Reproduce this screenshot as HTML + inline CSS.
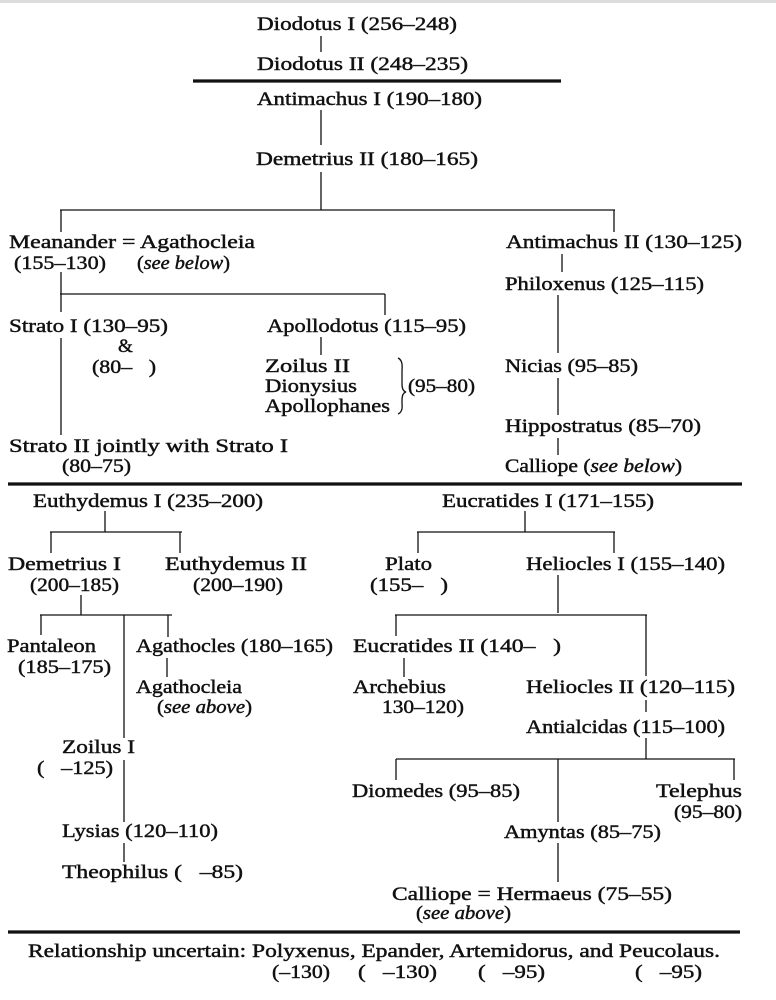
<!DOCTYPE html>
<html><head><meta charset="utf-8"><style>
html,body{margin:0;padding:0;background:#fff;}
svg{display:block;}
text{font-family:"Liberation Serif",serif;font-size:19px;fill:#111;stroke:#111;stroke-width:0.45;}
.i{font-style:italic;}
line{stroke:#111;stroke-width:1.3;}
.t{stroke-width:3.2;}
</style></head><body>
<svg width="776" height="1000" viewBox="0 0 776 1000" xmlns="http://www.w3.org/2000/svg">
<rect x="0" y="0" width="776" height="3" fill="#ddd"/>
<g>
<text x="257" y="30" textLength="200" lengthAdjust="spacingAndGlyphs">Diodotus I (256–248)</text>
<text x="257" y="70" textLength="211" lengthAdjust="spacingAndGlyphs">Diodotus II (248–235)</text>
<text x="257" y="105" textLength="225" lengthAdjust="spacingAndGlyphs">Antimachus I (190–180)</text>
<text x="256" y="165" textLength="222" lengthAdjust="spacingAndGlyphs">Demetrius II (180–165)</text>
<text x="9" y="248" textLength="246" lengthAdjust="spacingAndGlyphs">Meanander = Agathocleia</text>
<text x="14" y="269" textLength="92" lengthAdjust="spacingAndGlyphs">(155–130)</text>
<text x="137" y="269" textLength="93" lengthAdjust="spacingAndGlyphs">(<tspan class="i">see below</tspan>)</text>
<text x="9" y="332" textLength="159" lengthAdjust="spacingAndGlyphs">Strato I (130–95)</text>
<text x="118" y="352">&amp;</text>
<text x="92" y="373" textLength="64" lengthAdjust="spacingAndGlyphs">(80–&#160;&#160;&#160;)</text>
<text x="267" y="332" textLength="199" lengthAdjust="spacingAndGlyphs">Apollodotus (115–95)</text>
<text x="265" y="372" textLength="85" lengthAdjust="spacingAndGlyphs">Zoilus II</text>
<text x="265" y="392" textLength="92" lengthAdjust="spacingAndGlyphs">Dionysius</text>
<text x="265" y="412" textLength="125" lengthAdjust="spacingAndGlyphs">Apollophanes</text>
<text x="408" y="392" textLength="67" lengthAdjust="spacingAndGlyphs">(95–80)</text>
<text x="9" y="452" textLength="279" lengthAdjust="spacingAndGlyphs">Strato II jointly with Strato I</text>
<text x="62" y="472" textLength="69" lengthAdjust="spacingAndGlyphs">(80–75)</text>
<text x="506" y="248" textLength="236" lengthAdjust="spacingAndGlyphs">Antimachus II (130–125)</text>
<text x="505" y="290" textLength="199" lengthAdjust="spacingAndGlyphs">Philoxenus (125–115)</text>
<text x="505" y="372" textLength="133" lengthAdjust="spacingAndGlyphs">Nicias (95–85)</text>
<text x="505" y="432" textLength="196" lengthAdjust="spacingAndGlyphs">Hippostratus (85–70)</text>
<text x="505" y="472" textLength="177" lengthAdjust="spacingAndGlyphs">Calliope (<tspan class="i">see below</tspan>)</text>

<text x="33" y="507" textLength="230" lengthAdjust="spacingAndGlyphs">Euthydemus I (235–200)</text>
<text x="8" y="570" textLength="113" lengthAdjust="spacingAndGlyphs">Demetrius I</text>
<text x="30" y="591" textLength="89" lengthAdjust="spacingAndGlyphs">(200–185)</text>
<text x="165" y="570" textLength="142" lengthAdjust="spacingAndGlyphs">Euthydemus II</text>
<text x="193" y="591" textLength="90" lengthAdjust="spacingAndGlyphs">(200–190)</text>
<text x="7" y="652" textLength="89" lengthAdjust="spacingAndGlyphs">Pantaleon</text>
<text x="18" y="673" textLength="93" lengthAdjust="spacingAndGlyphs">(185–175)</text>
<text x="136" y="652" textLength="197" lengthAdjust="spacingAndGlyphs">Agathocles (180–165)</text>
<text x="136" y="693" textLength="106" lengthAdjust="spacingAndGlyphs">Agathocleia</text>
<text x="157" y="713" textLength="95" lengthAdjust="spacingAndGlyphs">(<tspan class="i">see above</tspan>)</text>
<text x="62" y="753" textLength="73" lengthAdjust="spacingAndGlyphs">Zoilus I</text>
<text x="37" y="774" textLength="76" lengthAdjust="spacingAndGlyphs">(&#160;&#160;&#160;–125)</text>
<text x="62" y="837" textLength="156" lengthAdjust="spacingAndGlyphs">Lysias (120–110)</text>
<text x="62" y="878" textLength="181" lengthAdjust="spacingAndGlyphs">Theophilus (&#160;&#160;&#160;–85)</text>
<text x="442" y="507" textLength="212" lengthAdjust="spacingAndGlyphs">Eucratides I (171–155)</text>
<text x="385" y="570" textLength="47" lengthAdjust="spacingAndGlyphs">Plato</text>
<text x="370" y="591" textLength="78" lengthAdjust="spacingAndGlyphs">(155–&#160;&#160;&#160;)</text>
<text x="526" y="570" textLength="199" lengthAdjust="spacingAndGlyphs">Heliocles I (155–140)</text>
<text x="353" y="652" textLength="208" lengthAdjust="spacingAndGlyphs">Eucratides II (140–&#160;&#160;&#160;)</text>
<text x="353" y="693" textLength="93" lengthAdjust="spacingAndGlyphs">Archebius</text>
<text x="382" y="713" textLength="82" lengthAdjust="spacingAndGlyphs">130–120)</text>
<text x="526" y="693" textLength="209" lengthAdjust="spacingAndGlyphs">Heliocles II (120–115)</text>
<text x="526" y="733" textLength="199" lengthAdjust="spacingAndGlyphs">Antialcidas (115–100)</text>
<text x="352" y="797" textLength="168" lengthAdjust="spacingAndGlyphs">Diomedes (95–85)</text>
<text x="656" y="797" textLength="86" lengthAdjust="spacingAndGlyphs">Telephus</text>
<text x="674" y="818" textLength="68" lengthAdjust="spacingAndGlyphs">(95–80)</text>
<text x="504" y="838" textLength="157" lengthAdjust="spacingAndGlyphs">Amyntas (85–75)</text>
<text x="392" y="900" textLength="280" lengthAdjust="spacingAndGlyphs">Calliope = Hermaeus (75–55)</text>
<text x="416" y="919" textLength="95" lengthAdjust="spacingAndGlyphs">(<tspan class="i">see above</tspan>)</text>
<text x="28" y="957" textLength="692" lengthAdjust="spacingAndGlyphs">Relationship uncertain: Polyxenus, Epander, Artemidorus, and Peucolaus.</text>
<text x="272" y="978" textLength="58" lengthAdjust="spacingAndGlyphs">(–130)</text>
<text x="358" y="978" textLength="79" lengthAdjust="spacingAndGlyphs">(&#160;&#160;&#160;–130)</text>
<text x="478" y="978" textLength="67" lengthAdjust="spacingAndGlyphs">(&#160;&#160;&#160;–95)</text>
<text x="635" y="978" textLength="67" lengthAdjust="spacingAndGlyphs">(&#160;&#160;&#160;–95)</text>
</g>

<line x1="321" y1="36" x2="321" y2="52"/>
<line class="t" x1="193" y1="81" x2="561" y2="81"/>
<line x1="321" y1="110" x2="321" y2="145"/>
<line x1="321" y1="172" x2="321" y2="210"/>
<line x1="60" y1="210" x2="615" y2="210"/>
<line x1="61" y1="210" x2="61" y2="232"/>
<line x1="614" y1="210" x2="614" y2="232"/>
<line x1="61" y1="272" x2="61" y2="312"/>
<line x1="60" y1="294" x2="385" y2="294"/>
<line x1="385" y1="294" x2="385" y2="315"/>
<line x1="61" y1="338" x2="61" y2="435"/>
<line x1="321" y1="337" x2="321" y2="355"/>
<path d="M398 358 Q403 360 402 370 L402 384 Q402 391 406 392 Q402 393 402 400 L402 404 Q403 412 398 414" fill="none" stroke="#111" stroke-width="1.3"/>
<line x1="562" y1="254" x2="562" y2="272"/>
<line x1="558" y1="295" x2="558" y2="353"/>
<line x1="558" y1="378" x2="558" y2="415"/>
<line x1="558" y1="438" x2="558" y2="455"/>
<line class="t" x1="8" y1="484" x2="742" y2="484"/>
<line x1="105" y1="511" x2="105" y2="532"/>
<line x1="50" y1="532" x2="182" y2="532"/>
<line x1="51" y1="532" x2="51" y2="553"/>
<line x1="180" y1="532" x2="180" y2="553"/>
<line x1="81" y1="595" x2="81" y2="615"/>
<line x1="40" y1="615" x2="172" y2="615"/>
<line x1="41" y1="615" x2="41" y2="635"/>
<line x1="124" y1="615" x2="124" y2="738"/>
<line x1="168" y1="615" x2="168" y2="637"/>
<line x1="167" y1="658" x2="167" y2="677"/>
<line x1="124" y1="760" x2="124" y2="822"/>
<line x1="124" y1="843" x2="124" y2="862"/>
<line x1="525" y1="511" x2="525" y2="532"/>
<line x1="417" y1="532" x2="615" y2="532"/>
<line x1="418" y1="532" x2="418" y2="553"/>
<line x1="614" y1="532" x2="614" y2="553"/>
<line x1="558" y1="575" x2="558" y2="613"/>
<line x1="395" y1="615" x2="647" y2="615"/>
<line x1="396" y1="615" x2="396" y2="636"/>
<line x1="646" y1="615" x2="646" y2="676"/>
<line x1="404" y1="658" x2="404" y2="677"/>
<line x1="646" y1="700" x2="646" y2="712"/>
<line x1="646" y1="738" x2="646" y2="759"/>
<line x1="396" y1="759" x2="735" y2="759"/>
<line x1="396" y1="759" x2="396" y2="780"/>
<line x1="558" y1="759" x2="558" y2="822"/>
<line x1="734" y1="759" x2="734" y2="780"/>
<line x1="558" y1="843" x2="558" y2="882"/>
<line class="t" x1="8" y1="932" x2="740" y2="932"/>
</svg>
</body></html>
